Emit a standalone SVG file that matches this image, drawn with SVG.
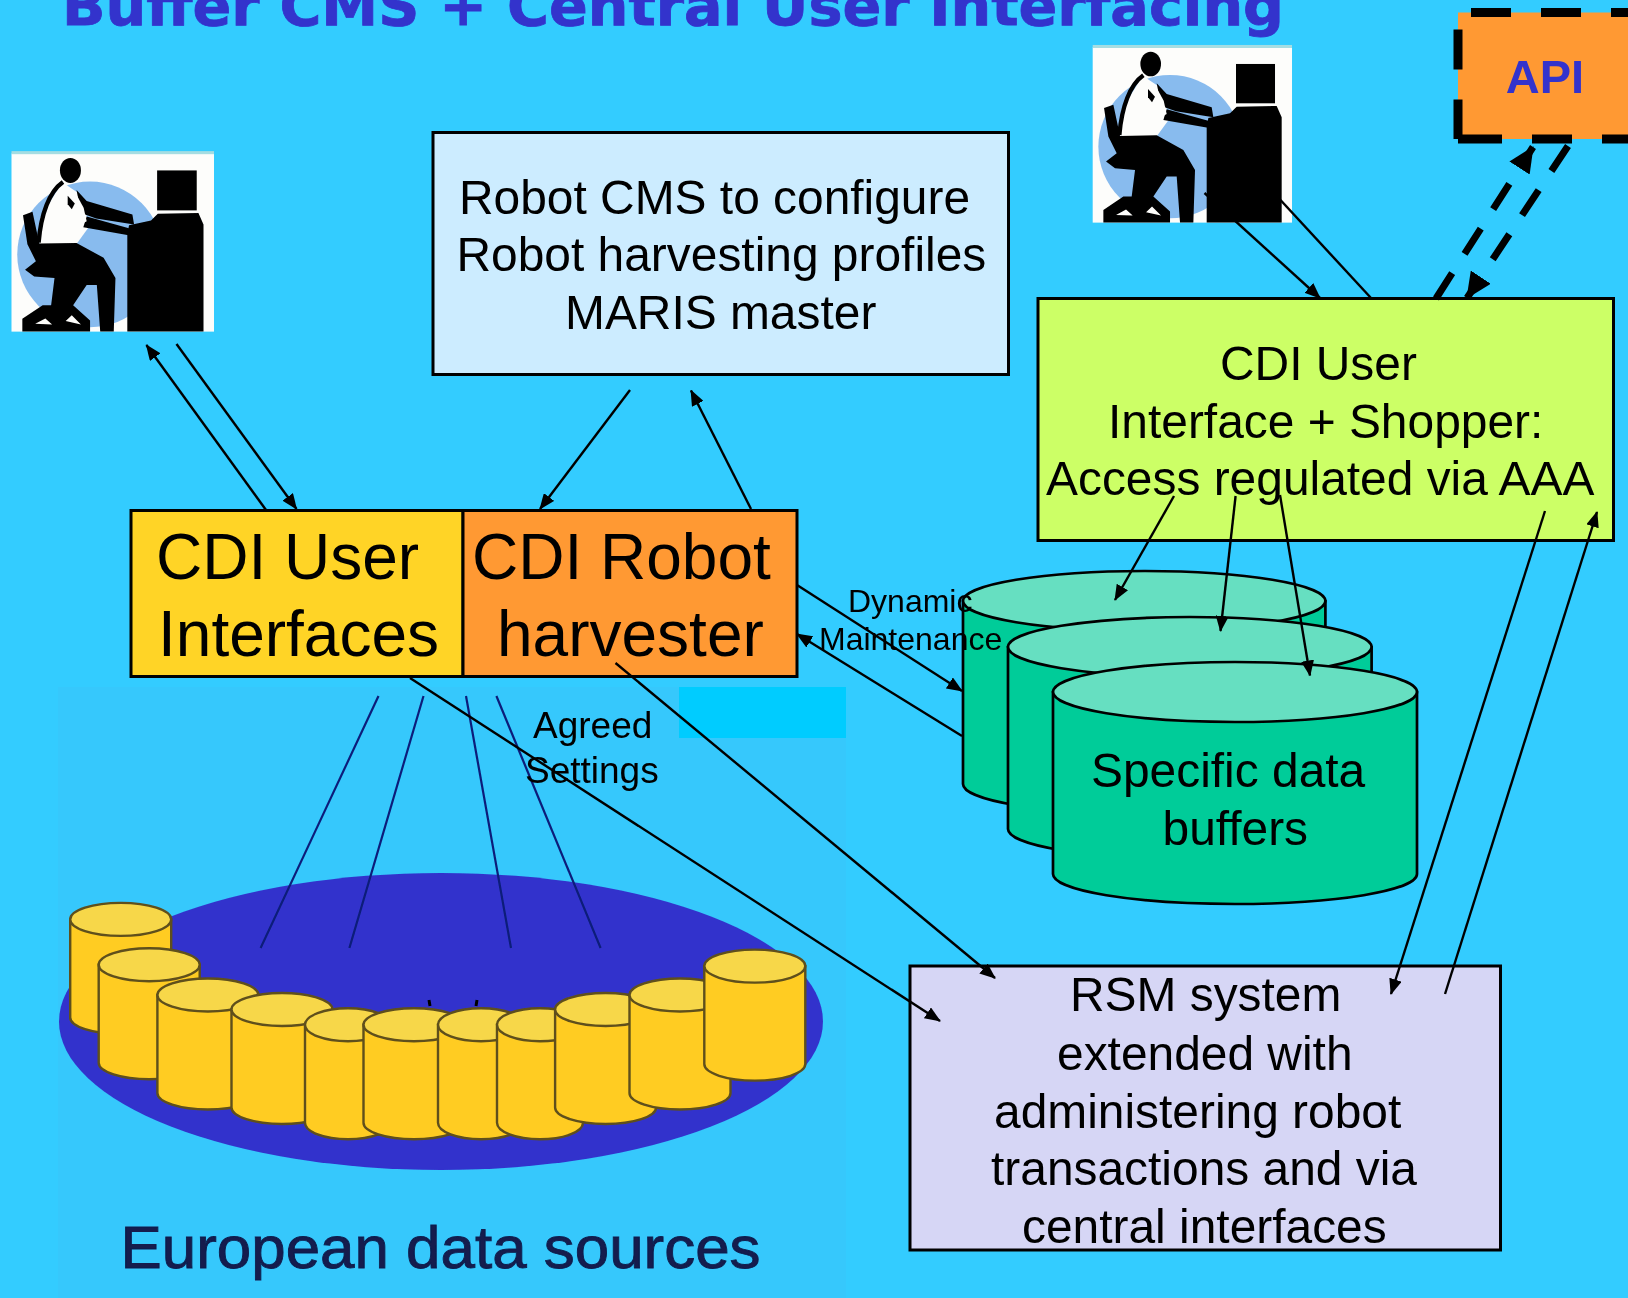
<svg xmlns="http://www.w3.org/2000/svg" xmlns:xlink="http://www.w3.org/1999/xlink" width="1628" height="1298" viewBox="0 0 1628 1298">
<style>
text{font-family:"Liberation Sans",Arial,sans-serif;fill:#000}
.m{font-size:47.9px}
.l{font-size:64px}
.s{font-size:32px}
.a{font-size:37px}
.box{stroke:#000;stroke-width:3}
.cb{fill:#00CC99;stroke:#000;stroke-width:2.7}
.ct{fill:#66DFC1;stroke:#000;stroke-width:2.7}
.c{fill:none;stroke:#000;stroke-width:2.4}
.t{fill:none;stroke:#000;stroke-width:7;stroke-dasharray:30 23}
.r{fill:none;stroke:#0A1F7A;stroke-width:2.2}
.yb{fill:#FFCC22;stroke:#5E4F1C;stroke-width:2.4}
.yt{fill:#F7D748;stroke:#5E4F1C;stroke-width:2.4}
</style>
<defs>
<filter id="b" x="-5%" y="-5%" width="110%" height="110%"><feGaussianBlur stdDeviation=".7"/></filter>
<marker id="h" viewBox="0 0 16 13" refX="15" refY="6.5" markerUnits="userSpaceOnUse" markerWidth="16" markerHeight="13" orient="auto"><path d="M0 0L16 6.5L0 13z" fill="#000"/></marker>
<marker id="H" viewBox="0 0 26 24" refX="25" refY="12" markerUnits="userSpaceOnUse" markerWidth="26" markerHeight="24" orient="auto"><path d="M0 0L26 12L0 24z" fill="#000"/></marker>
<g id="ycyl">
<path class="yb" d="M-50.5 16.5V114.5A50.5 16.5 0 0 0 50.5 114.5V16.5z"/>
<ellipse class="yt" cx="0" cy="16.5" rx="50.5" ry="16.5"/>
</g>
<g id="ycyln">
<path class="yb" d="M-43 16.5V114.5A43 16.5 0 0 0 43 114.5V16.5z"/>
<ellipse class="yt" cx="0" cy="16.5" rx="43" ry="16.500"/>
</g>
<g id="person" transform="scale(.3333)">
<rect x="0" y="0" width="598" height="526" fill="#FDFDFB"/>
<rect x="0" y="-7" width="598" height="9" fill="#A5DDE2"/>
<circle cx="232" cy="298" r="215" fill="#88BBEE"/>
<rect x="430" y="50" width="117" height="118" fill="#000"/>
<path d="M347 212L412 198L432 178L552 176L567 210V526H342V240z" fill="#000"/>
<path d="M150 85L195 115L215 160L230 215L190 270H82L85 190Z" fill="#FDFDFB"/>
<ellipse cx="174" cy="50" rx="31" ry="37" fill="#000"/>
<path d="M152 84C112 112 87 178 80 263" fill="none" stroke="#000" stroke-width="13"/>
<path d="M192 108L222 140L357 180L362 210L250 192L205 176Z" fill="#000"/>
<path d="M222 186L352 222L350 242L212 218Z" fill="#000"/>
<path d="M166 125L187 148L178 165L166 150z" fill="#000"/>
<path d="M34 182L62 172L82 266L192 264L272 308L307 368L302 526H262L252 388L222 388L182 448L232 493L232 526H32L32 488L92 448L117 448L127 368L67 363L40 343L72 318L47 268Z" fill="#000"/>
<path d="M70 503L100 487L120 505zM160 495L178 478L205 505z" fill="#FDFDFB"/>
<path d="M192 122L213 160L222 200L207 208Z" fill="#FDFDFB"/>
</g>
</defs>

<rect id="background" x="0" y="0" width="1628" height="1298" fill="#33CCFF"/>

<g id="title"><text x="62" y="25" font-size="56" font-weight="700" style="font-family:'DejaVu Sans',Verdana,sans-serif;fill:#3333CC;stroke:#3333CC;stroke-width:.8" textLength="1222" lengthAdjust="spacingAndGlyphs">Buffer CMS + Central User Interfacing</text></g>

<g id="european-data-sources">
<rect x="58" y="687" width="788" height="611" fill="#36C8FC"/>
<rect x="679" y="687" width="167" height="51" fill="#00CCFF"/>
<g filter="url(#b)">
<ellipse cx="441" cy="1021.5" rx="382" ry="148.5" fill="#3333CC"/>
<path d="M429 1000l1 6M477 1000l-1 6" stroke="#000" stroke-width="3"/>
<path class="r" d="M378.500 696L260.600 948M423.500 696L349.400 948M466 696L511 948M496.400 696L600.600 948"/>
<use xlink:href="#ycyl" href="#ycyl" x="120.700" y="902.900"/>
<use xlink:href="#ycyl" href="#ycyl" x="149.200" y="948.300"/>
<use xlink:href="#ycyl" href="#ycyl" x="207.900" y="978.500"/>
<use xlink:href="#ycyl" href="#ycyl" x="282" y="993"/>
<use xlink:href="#ycyln" href="#ycyln" x="348" y="1008.300"/>
<use xlink:href="#ycyl" href="#ycyl" x="414" y="1008.300"/>
<use xlink:href="#ycyln" href="#ycyln" x="481" y="1008.300"/>
<use xlink:href="#ycyln" href="#ycyln" x="540" y="1008.300"/>
<use xlink:href="#ycyl" href="#ycyl" x="605.600" y="993"/>
<use xlink:href="#ycyl" href="#ycyl" x="680" y="978.500"/>
<use xlink:href="#ycyl" href="#ycyl" x="754.800" y="949.600"/>
<text x="120.500" y="1268" font-size="60" style="fill:#121D4E;stroke:#121D4E;stroke-width:.9" textLength="640" lengthAdjust="spacingAndGlyphs">European data sources</text>
</g>
</g>

<g id="user-left" filter="url(#b)"><use xlink:href="#person" href="#person" transform="translate(11.500 153.500) scale(1.016)"/></g>
<g id="user-right" filter="url(#b)"><use xlink:href="#person" href="#person" transform="translate(1092.700 47.300)"/></g>

<g id="robot-cms">
<rect class="box" x="433" y="132.500" width="575.500" height="242" fill="#CCECFF"/>
<text class="m" x="459" y="214">Robot CMS to configure</text>
<text class="m" x="456.500" y="271">Robot harvesting profiles</text>
<text class="m" x="565" y="329">MARIS master</text>
</g>

<g id="api">
<rect x="1458" y="12.500" width="175" height="126.500" fill="#FF9933"/>
<path d="M1651 12.500H1458V139" fill="none" stroke="#000" stroke-width="9" stroke-dasharray="40 30"/>
<path d="M1458 139H1640" fill="none" stroke="#000" stroke-width="9" stroke-dasharray="44 30 40 30 40 30"/>
<text x="1545" y="93" font-size="47" font-weight="700" text-anchor="middle" style="fill:#3333CC">API</text>
</g>

<g id="cdi-user-interface-shopper">
<rect class="box" x="1038" y="298.500" width="575.500" height="242" fill="#CCFF66"/>
<text class="m" x="1220" y="380">CDI User</text>
<text class="m" x="1108" y="438">Interface + Shopper:</text>
<text class="m" x="1046" y="495">Access regulated via AAA</text>
</g>

<g id="cdi-user-interfaces">
<rect class="box" x="131" y="510.500" width="332" height="166" fill="#FFD426"/>
<text class="l" x="156" y="578.500">CDI User</text>
<text class="l" x="158" y="656">Interfaces</text>
</g>
<g id="cdi-robot-harvester">
<rect class="box" x="463" y="510.500" width="334" height="166" fill="#FF9933"/>
<text class="l" x="472" y="578.500">CDI Robot</text>
<text class="l" x="497" y="656">harvester</text>
</g>

<g id="specific-data-buffers">
<path class="cb" d="M963 601V784A181 30 0 0 0 1325.400 784V601z"/>
<ellipse class="ct" cx="1144.200" cy="601" rx="181.200" ry="30"/>
<path class="cb" d="M1008 647V829A181.800 30 0 0 0 1371.600 829V647z"/>
<ellipse class="ct" cx="1189.800" cy="647" rx="181.800" ry="30"/>
<path class="cb" d="M1053 692V874A182 30 0 0 0 1417 874V692z"/>
<ellipse class="ct" cx="1235" cy="692" rx="182" ry="30"/>
<text class="m" x="1091" y="787">Specific data</text>
<text class="m" x="1162.500" y="844.500">buffers</text>
</g>

<g id="rsm-system">
<rect class="box" x="910" y="966" width="590.500" height="284" fill="#D6D6F5"/>
<text class="m" x="1070" y="1010.500">RSM system</text>
<text class="m" x="1057" y="1069.500">extended with</text>
<text class="m" x="994" y="1127.500">administering robot</text>
<text class="m" x="991" y="1184.500">transactions and via</text>
<text class="m" x="1022" y="1242.500">central interfaces</text>
</g>

<g id="connectors">
<path class="c" marker-end="url(#h)" d="M266 510L146.400 345"/>
<path class="c" marker-end="url(#h)" d="M176.500 344L296.500 509"/>
<path class="c" marker-end="url(#h)" d="M630 390L540 509"/>
<path class="c" marker-end="url(#h)" d="M751 509L691 390.500"/>
<path class="c" marker-end="url(#h)" d="M1204.500 193L1320 298"/>
<path class="c" marker-end="url(#h)" d="M1371 298L1262 180"/>
<path class="t" marker-end="url(#H)" d="M1436 298.500L1533 147"/>
<path class="t" marker-end="url(#H)" d="M1568 146L1467 298"/>
<path class="c" marker-end="url(#h)" d="M1174 496L1115 600"/>
<path class="c" marker-end="url(#h)" d="M1235.600 496L1220.500 631"/>
<path class="c" marker-end="url(#h)" d="M1280 495L1310 675.500"/>
<path class="c" marker-end="url(#h)" d="M1545 511L1391 994"/>
<path class="c" marker-end="url(#h)" d="M1445 994L1597 512"/>
<path class="c" marker-end="url(#h)" d="M797 585L962 691"/>
<path class="c" marker-end="url(#h)" d="M962 736L797 634"/>
<path class="c" marker-end="url(#h)" d="M410 678L940 1021"/>
<path class="c" marker-end="url(#h)" d="M615.500 663L995 978"/>
</g>

<g id="labels">
<text class="s" x="848" y="612">Dynamic</text>
<text class="s" x="819" y="650">Maintenance</text>
<text class="a" x="533" y="737.500">Agreed</text>
<text class="a" x="525" y="783">Settings</text>
</g>
</svg>
